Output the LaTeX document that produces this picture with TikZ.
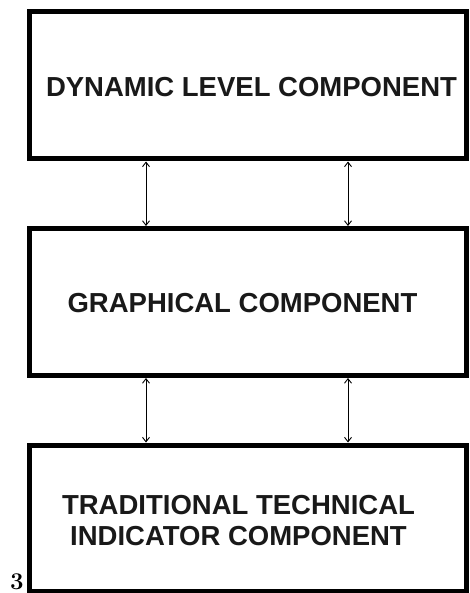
\documentclass[tikz,border=0pt]{standalone}
\usepackage{fontspec}
\newfontfamily\boxfont{Liberation Sans}
\usetikzlibrary{arrows.meta}
\tikzset{
  compbox/.style={draw=black, line width=5pt, inner sep=0pt, minimum width=437pt, minimum height=147pt},
  complabel/.style={font=\boxfont\bfseries\fontsize{27.5}{31}\selectfont, align=center, inner sep=0pt, text=black!90},
  linkarrow/.style={line width=0.9pt, {Straight Barb[length=4.5pt,width=7pt]}-{Straight Barb[length=4.5pt,width=7pt]}}
}
\begin{document}
\begin{tikzpicture}[x=1pt,y=-1pt]
\useasboundingbox (0,0) rectangle (469,593);
\fill[white] (0,0) rectangle (469,593);
\node[compbox] (dyn) at (247.5,85.5) {};
\node[compbox] (gra) at (247.5,302) {};
\node[compbox, minimum height=146pt] (tti) at (247.5,518) {};
\node[complabel] (dynt) at (251.5,87) {DYNAMIC LEVEL COMPONENT};
\node[complabel] (grat) at (242.5,303) {GRAPHICAL COMPONENT};
\node[complabel] (ttit) at (238.5,521) {TRADITIONAL TECHNICAL\\INDICATOR COMPONENT};
\draw[linkarrow] ([xshift=-101.5pt]dyn.south) -- ([xshift=-101.5pt]gra.north);
\draw[linkarrow] ([xshift=100.5pt]dyn.south) -- ([xshift=100.5pt]gra.north);
\draw[linkarrow] ([xshift=-101.5pt]gra.south) -- ([xshift=-101.5pt]tti.north);
\draw[linkarrow] ([xshift=100.5pt]gra.south) -- ([xshift=100.5pt]tti.north);
\node[anchor=base, inner sep=0pt, font=\bfseries\fontsize{24}{24}\selectfont] (num) at (17,589) {3};
\end{tikzpicture}
\end{document}
